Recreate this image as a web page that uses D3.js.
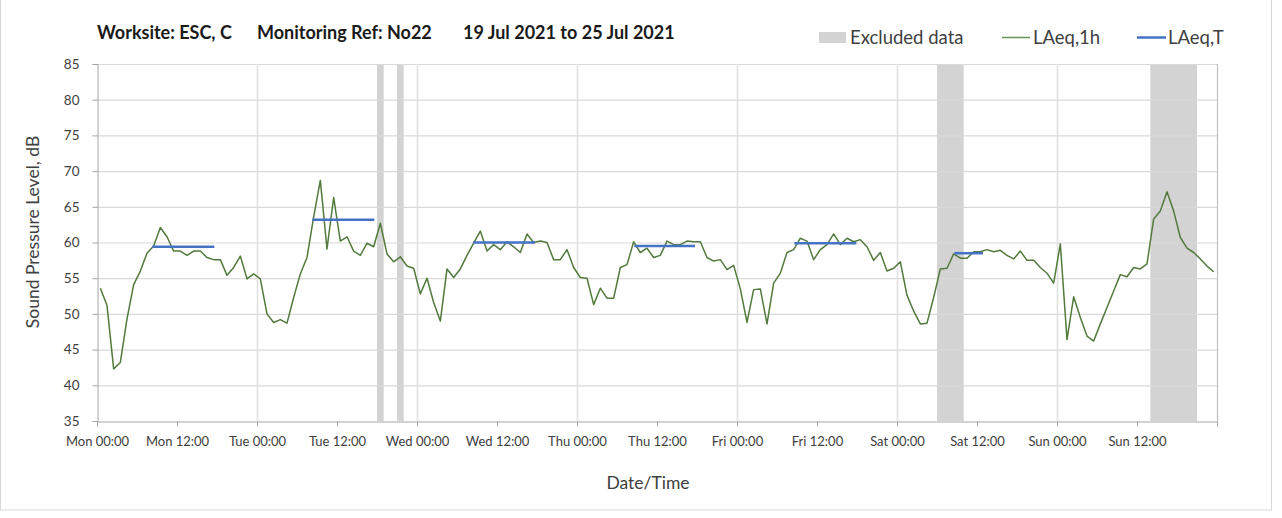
<!DOCTYPE html>
<html>
<head>
<meta charset="utf-8">
<script src="https://cdn.jsdelivr.net/npm/d3@7"></script>
<style>
  html, body { margin: 0; padding: 0; background: #ffffff; }
  svg { display: block; }
  text { font-family: Lato, "Open Sans", sans-serif; }
</style>
</head>
<body>
<svg id="chart" width="1282" height="518"></svg>
<script>
// ---- Data ----
const titleParts = ["Worksite: ESC, C", "Monitoring Ref: No22", "19 Jul 2021 to 25 Jul 2021"];
const xTickLabels = ["Mon 00:00","Mon 12:00","Tue 00:00","Tue 12:00","Wed 00:00","Wed 12:00",
  "Thu 00:00","Thu 12:00","Fri 00:00","Fri 12:00","Sat 00:00","Sat 12:00","Sun 00:00","Sun 12:00"];
const yTicks = [35,40,45,50,55,60,65,70,75,80,85];
// hourly LAeq,1h values, Mon 00:00 .. Sun 23:00 (168 hours)
const laeq1h = [
  53.6,51.2,42.3,43.2,49.3,54.1,56.0,58.5,59.5,62.1,60.8,58.8,58.8,58.2,58.8,58.8,57.9,57.6,57.6,55.4,56.5,58.1,54.9,55.6,
  54.9,50.0,48.8,49.2,48.7,52.3,55.6,57.9,63.6,68.7,59.1,66.3,60.2,60.8,58.8,58.2,59.9,59.4,62.7,58.4,57.3,58.0,56.7,56.4,
  52.8,55.0,51.6,49.0,56.3,55.1,56.3,58.2,59.9,61.6,58.8,59.7,59.0,60.1,59.4,58.6,61.2,60.0,60.2,60.0,57.6,57.6,59.0,56.5,
  55.1,55.0,51.3,53.6,52.2,52.2,56.5,56.9,60.1,58.6,59.2,57.9,58.2,60.2,59.7,59.7,60.2,60.1,60.1,57.9,57.4,57.6,56.2,56.8,
  53.5,48.8,53.4,53.5,48.6,54.3,55.7,58.6,59.0,60.6,60.2,57.6,59.0,59.7,61.2,59.7,60.6,60.1,60.4,59.4,57.5,58.6,56.0,56.4,
  57.3,52.6,50.4,48.6,48.7,52.3,56.3,56.4,58.4,57.8,57.8,58.7,58.7,59.0,58.7,58.9,58.2,57.7,58.8,57.5,57.5,56.5,55.7,54.3,
  59.8,46.4,52.4,49.5,46.9,46.2,48.6,50.9,53.2,55.5,55.2,56.5,56.3,57.0,63.3,64.4,67.1,64.4,60.7,59.2,58.6,57.7,56.7,55.9
];
// LAeq,T periods: start hour, end hour, level
const laeqTStart = [8.3, 32.3, 56.4, 80.6, 104.6, 128.6];
const laeqTEnd   = [17.6, 41.6, 65.7, 89.7, 113.9, 132.9];
const laeqTValue = [59.4, 63.2, 60.0, 59.5, 59.9, 58.5];
// excluded periods: start hour, end hour
const exclStart = [42, 45, 126, 158];
const exclEnd   = [43, 46, 130, 165];
const legendLabels = ["Excluded data", "LAeq,1h", "LAeq,T"];

// ---- Layout ----
const svg = d3.select("#chart");
const pLeft = 97, pRight = 1217, pTop = 64, pBottom = 421;
const x = d3.scaleLinear().domain([0, 168]).range([pLeft, pRight]);
const y = d3.scaleLinear().domain([35, 85]).range([pBottom, pTop]);

const gridColor = "#d9d9d9";
const textColor = "#404040";
const lineGreen = "#527a3c";
const blue = "#4472c4";
const exclColor = "#d3d3d3";

// outer frame
svg.append("rect").attr("x", 0.5).attr("y", -2).attr("width", 1271).attr("height", 512)
  .attr("fill", "none").attr("stroke", "#d9d9d9");

// excluded bands
svg.append("g").selectAll("rect").data(exclStart).join("rect")
  .attr("x", (d) => x(d))
  .attr("width", (d, i) => x(exclEnd[i]) - x(d))
  .attr("y", pTop).attr("height", pBottom - pTop)
  .attr("fill", exclColor);

// horizontal grid
svg.append("g").selectAll("line").data(yTicks.filter(v => v > 35)).join("line")
  .attr("x1", pLeft).attr("x2", pRight)
  .attr("y1", d => y(d) + 0.5).attr("y2", d => y(d) + 0.5)
  .attr("stroke", gridColor).attr("stroke-width", 1.2);

// vertical day grid
const dayLines = d3.range(24, 168, 24);
svg.append("g").selectAll("line").data(dayLines).join("line")
  .attr("x1", d => x(d) + 0.5).attr("x2", d => x(d) + 0.5)
  .attr("y1", pTop).attr("y2", pBottom)
  .attr("stroke", "#e0e0e0").attr("stroke-width", 1.5);

// right border
svg.append("line").attr("x1", pRight + 0.5).attr("x2", pRight + 0.5).attr("y1", pTop).attr("y2", pBottom)
  .attr("stroke", "#bfbfbf").attr("stroke-width", 1.2);

// y axis
const yAxis = svg.append("g").attr("transform", `translate(${pLeft + 0.5},0)`)
  .call(d3.axisLeft(y).tickValues(yTicks).tickSize(5).tickPadding(13).tickFormat(d3.format("d")));
yAxis.select(".domain").attr("stroke", "#a6a6a6");
yAxis.selectAll(".tick line").attr("stroke", "#a6a6a6");
yAxis.selectAll(".tick text").attr("fill", textColor).style("font-size", "13.5px")
  .style("font-family", "Lato, sans-serif");

// x axis
const xTickVals = d3.range(0, 169, 12);
const xAxis = svg.append("g").attr("transform", `translate(0,${pBottom + 0.5})`)
  .call(d3.axisBottom(x).tickValues(xTickVals).tickSize(5).tickPadding(10)
    .tickFormat((d, i) => xTickLabels[i] || ""));
xAxis.select(".domain").attr("stroke", "#a6a6a6");
xAxis.selectAll(".tick line").attr("stroke", "#a6a6a6");
xAxis.selectAll(".tick text").attr("fill", textColor).style("font-size", "13px")
  .style("font-family", "Lato, sans-serif");

// LAeq,1h line
const line = d3.line().x((d, i) => x(i + 0.5)).y(d => y(d));
svg.append("path").datum(laeq1h).attr("d", line)
  .attr("fill", "none").attr("stroke", lineGreen).attr("stroke-width", 1.5)
  .attr("stroke-linejoin", "round");

// LAeq,T segments
svg.append("g").selectAll("line").data(laeqTValue).join("line")
  .attr("x1", (d, i) => x(laeqTStart[i])).attr("x2", (d, i) => x(laeqTEnd[i]))
  .attr("y1", d => y(d)).attr("y2", d => y(d))
  .attr("stroke", blue).attr("stroke-width", 2.5);

// title
const titleX = [97, 257, 463];
svg.append("g").selectAll("text").data(titleParts).join("text")
  .attr("x", (d, i) => titleX[i]).attr("y", 38.5)
  .attr("font-size", 18).attr("font-weight", "bold").attr("fill", "#1a1a1a")
  .text(d => d);

// legend
const lg = svg.append("g");
lg.append("rect").attr("x", 819).attr("y", 32).attr("width", 27).attr("height", 11).attr("fill", exclColor);
lg.append("line").attr("x1", 1002).attr("x2", 1030).attr("y1", 37.5).attr("y2", 37.5)
  .attr("stroke", "#6b9356").attr("stroke-width", 1.5);
lg.append("line").attr("x1", 1137).attr("x2", 1166).attr("y1", 37.5).attr("y2", 37.5)
  .attr("stroke", blue).attr("stroke-width", 2.5);
const legX = [850, 1033, 1168];
lg.selectAll("text").data(legendLabels).join("text")
  .attr("x", (d, i) => legX[i]).attr("y", 44)
  .attr("font-size", 18.5).attr("fill", textColor)
  .text(d => d);

// axis titles
svg.append("text").attr("transform", "translate(39,232) rotate(-90)")
  .attr("text-anchor", "middle").attr("font-size", 17.5).attr("fill", textColor)
  .text("Sound Pressure Level, dB");
svg.append("text").attr("x", 648).attr("y", 489)
  .attr("text-anchor", "middle").attr("font-size", 17.5).attr("fill", textColor)
  .text("Date/Time");
</script>
</body>
</html>
